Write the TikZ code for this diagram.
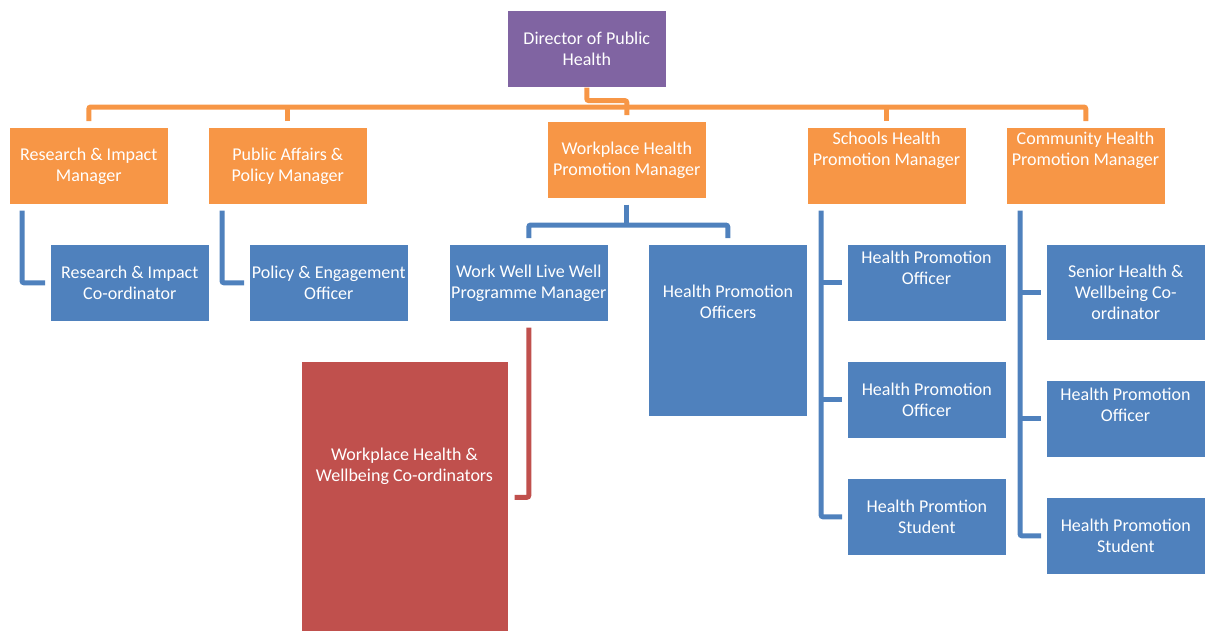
\documentclass[tikz,border=0pt]{standalone}
\usepackage{fontspec}
\setmainfont{Carlito}
\definecolor{cOr}{HTML}{F79646}
\definecolor{cBl}{HTML}{4F81BD}
\definecolor{cRd}{HTML}{C0504D}
\definecolor{cPu}{HTML}{8064A2}
\begin{document}
\begin{tikzpicture}[x=1pt,y=-1pt,
  box/.style={draw=white,line width=0.6pt,anchor=north west,inner sep=0pt,minimum width=159pt,minimum height=77pt},
  txt/.style={text=white,align=center,font=\fontsize{18}{21}\selectfont,inner sep=0pt},
  oline/.style={draw=cOr,line width=5pt,rounded corners=2pt},
  bline/.style={draw=cBl,line width=5pt,rounded corners=2pt},
  rline/.style={draw=cRd,line width=5pt,rounded corners=2pt}]
\useasboundingbox (0,0) rectangle (1205,630);
% boxes
\node[box,fill=cPu] (dir) at (507,10) {};
\node[txt] (dirT) at (dir.center) {Director of Public\\Health};
\node[box,fill=cOr] (rim) at (9,127) {};
\node[txt] (rimT) at (rim.center) {Research \& Impact\\Manager};
\node[box,fill=cOr] (pam) at (208,127) {};
\node[txt] (pamT) at (pam.center) {Public Affairs \&\\Policy Manager};
\node[box,fill=cOr] (whm) at (547,121) {};
\node[txt] (whmT) at (whm.center) {Workplace Health\\Promotion Manager};
\node[box,fill=cOr] (shm) at (807,127) {};
\node[txt] (shmT) at (886.5,150.5) {Schools Health\\Promotion Manager};
\node[box,fill=cOr] (chm) at (1006,127) {};
\node[txt] (chmT) at (1085.5,150.5) {Community Health\\Promotion Manager};
\node[box,fill=cBl] (ric) at (50,244) {};
\node[txt] (ricT) at (ric.center) {Research \& Impact\\Co-ordinator};
\node[box,fill=cBl] (pe) at (249,244) {};
\node[txt] (peT) at (pe.center) {Policy \& Engagement\\Officer};
\node[box,fill=cBl] (ww) at (449,244) {};
\node[txt] (wwT) at (ww.center) {Work Well Live Well\\Programme Manager};
\node[box,fill=cBl,minimum height=172pt] (hpos) at (648,244) {};
\node[txt] (hposT) at (728,301.5) {Health Promotion\\Officers};
\node[box,fill=cRd,minimum width=207pt,minimum height=272pt] (wc) at (301,361) {};
\node[txt] (wcT) at (404.5,466.5) {Workplace Health \&\\Wellbeing Co-ordinators};
\node[box,fill=cBl] (so1) at (847,244) {};
\node[txt] (so1T) at (926.5,267.5) {Health Promotion\\Officer};
\node[box,fill=cBl] (so2) at (847,361) {};
\node[txt] (so2T) at (so2.center) {Health Promotion\\Officer};
\node[box,fill=cBl] (sst) at (847,478) {};
\node[txt] (sstT) at (sst.center) {Health Promtion\\Student};
\node[box,fill=cBl,minimum height=96pt] (cs1) at (1046,244) {};
\node[txt] (cs1T) at (cs1.center) {Senior Health \&\\Wellbeing Co-\\ordinator};
\node[box,fill=cBl] (co) at (1046,380) {};
\node[txt] (coT) at (1125.5,404.5) {Health Promotion\\Officer};
\node[box,fill=cBl] (cst) at (1046,497) {};
\node[txt] (cstT) at (cst.center) {Health Promotion\\Student};
% orange connectors
\coordinate (bus) at (600,107);
\draw[oline] ([yshift=6pt]rim.north) |- (bus) -| ([yshift=6pt]chm.north);
\draw[oline] ([yshift=6pt]pam.north) -- (pam.north |- bus);
\draw[oline] ([yshift=6pt]shm.north) -- (shm.north |- bus);
\draw[oline] (dir.south) -- ++(0,13) -| ([yshift=6pt]whm.north);
% blue connectors
\draw[bline] ([xshift=13pt,yshift=-6pt]rim.south west) |- ([xshift=-5pt]ric.west);
\draw[bline] ([xshift=14pt,yshift=-6pt]pam.south west) |- ([xshift=-5pt]pe.west);
\coordinate (wbus) at (627,225);
\draw[bline] ([yshift=-6pt]whm.south) -- (whm.south |- wbus);
\draw[bline] ([yshift=6pt]ww.north) |- (wbus) -| ([yshift=6pt]hpos.north);
\coordinate (sv) at ([xshift=14pt,yshift=-6pt]shm.south west);
\draw[bline] (sv) |- ([xshift=-5pt]sst.west);
\draw[bline] (so1.west -| sv) -- ([xshift=-5pt]so1.west);
\draw[bline] (so2.west -| sv) -- ([xshift=-5pt]so2.west);
\coordinate (cv) at ([xshift=14pt,yshift=-6pt]chm.south west);
\draw[bline] (cv) |- ([xshift=-5pt]cst.west);
\draw[bline] (cs1.west -| cv) -- ([xshift=-5pt]cs1.west);
\draw[bline] (co.west -| cv) -- ([xshift=-5pt]co.west);
% red connector
\draw[rline] ([yshift=-6pt]ww.south) |- ([xshift=6pt]wc.east);
\end{tikzpicture}
\end{document}
